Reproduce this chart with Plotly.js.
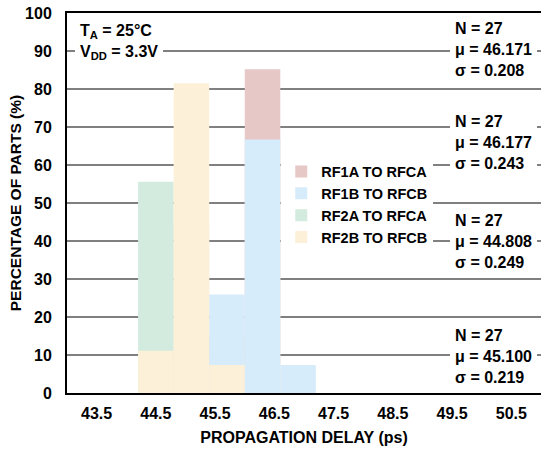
<!DOCTYPE html>
<html>
<head>
<meta charset="utf-8">
<script src="https://cdn.plot.ly/plotly-3.0.1.min.js"></script>
<style>html,body{margin:0;padding:0;background:#fff;}#chart{width:541px;height:450px;}</style>
</head>
<body>
<div id="chart"></div>
<script>
// Histogram bins (ps), bin width 0.6
const binCenters = [44.5, 45.1, 45.7, 46.3, 46.9];
const binWidth = 0.6;
// Percentage of parts per bin (N = 27 each)
const rf1aToRfca = [0, 0, 14.8, 85.2, 0];
const rf1bToRfcb = [0, 0, 25.9, 66.7, 7.4];
const rf2aToRfca = [55.6, 44.4, 0, 0, 0];
const rf2bToRfcb = [11.1, 81.5, 7.4, 0, 0];
const seriesNames = ['RF1A TO RFCA', 'RF1B TO RFCB', 'RF2A TO RFCA', 'RF2B TO RFCB'];
const xTickVals = [43.5, 44.5, 45.5, 46.5, 47.5, 48.5, 49.5, 50.5];
const xTickText = ['43.5', '44.5', '45.5', '46.5', '47.5', '48.5', '49.5', '50.5'];
// Statistics blocks: [N, mean, sigma, y position (%)]
const statN = [27, 27, 27, 27];
const statMu = ['46.171', '46.177', '44.808', '45.100'];
const statSigma = ['0.208', '0.243', '0.249', '0.219'];
const statY = [90.5, 65.8, 40, 9.7];

const FONT = 'Liberation Sans, Arial, Helvetica, sans-serif';
const colors = {rf1a: '#E6C8C6', rf1b: '#D7ECFA', rf2a: '#D3EBDE', rf2b: '#FDF0D8'};

function barTrace(y, name, color, rank) {
  return {
    type: 'bar', x: binCenters, y: y, width: binWidth, name: name,
    marker: {color: color, line: {width: 0}}, legendrank: rank, hoverinfo: 'x+y+name'
  };
}
const data = [
  barTrace(rf1aToRfca, seriesNames[0], colors.rf1a, 1),
  barTrace(rf2aToRfca, seriesNames[2], colors.rf2a, 3),
  barTrace(rf1bToRfcb, seriesNames[1], colors.rf1b, 2),
  barTrace(rf2bToRfcb, seriesNames[3], colors.rf2b, 4)
];

const annFont = {family: FONT, size: 16, color: '#000', weight: 'bold'};
const annotations = statN.map((n, i) => ({
  xref: 'x', yref: 'y', x: 49.464, y: statY[i], xanchor: 'left', yanchor: 'middle',
  align: 'left', showarrow: false, bgcolor: '#fff', borderpad: 5, borderwidth: 0,
  text: 'N = ' + n + '<br>μ = ' + statMu[i] + '<br>σ = ' + statSigma[i],
  font: annFont
}));
annotations.push({
  xref: 'x', yref: 'y', x: 43.135, y: 92.4, xanchor: 'left', yanchor: 'middle',
  align: 'left', showarrow: false, bgcolor: '#fff', borderpad: 5, borderwidth: 0,
  text: 'T<sub>A</sub> = 25°C<br>V<sub>DD</sub> = 3.3V',
  font: annFont
});

const layout = {
  width: 541, height: 450,
  margin: {l: 67, r: 0, t: 13, b: 57},
  paper_bgcolor: '#fff', plot_bgcolor: '#fff',
  barmode: 'overlay',
  showlegend: true,
  font: {family: FONT, color: '#000'},
  legend: {
    x: 0.452, y: 0.625, xanchor: 'left', yanchor: 'top',
    bgcolor: '#fff', borderwidth: 0,
    font: {family: FONT, size: 14.5, color: '#000', weight: 'bold'},
    traceorder: 'normal'
  },
  xaxis: {
    range: [43, 51], tickmode: 'array', tickvals: xTickVals, ticktext: xTickText,
    showgrid: false, zeroline: false, showline: true, linecolor: '#000', linewidth: 2,
    mirror: true, ticks: '', ticklabelstandoff: 5,
    tickfont: {family: FONT, size: 16, color: '#000', weight: 'bold'},
    title: {text: 'PROPAGATION DELAY (ps)', standoff: 11,
      font: {family: FONT, size: 16, color: '#000', weight: 'bold'}}
  },
  yaxis: {
    range: [0, 100], dtick: 10, tick0: 0,
    showgrid: true, gridcolor: '#808080', gridwidth: 1.5, zeroline: false,
    showline: true, linecolor: '#000', linewidth: 2, ticks: '', ticklabelstandoff: 10,
    tickfont: {family: FONT, size: 16, color: '#000', weight: 'bold'},
    title: {text: 'PERCENTAGE OF PARTS (%)', standoff: 0,
      font: {family: FONT, size: 15.5, color: '#000', weight: 'bold'}}
  },
  annotations: annotations
};

Plotly.newPlot('chart', data, layout, {staticPlot: true, displayModeBar: false});
</script>
</body>
</html>
